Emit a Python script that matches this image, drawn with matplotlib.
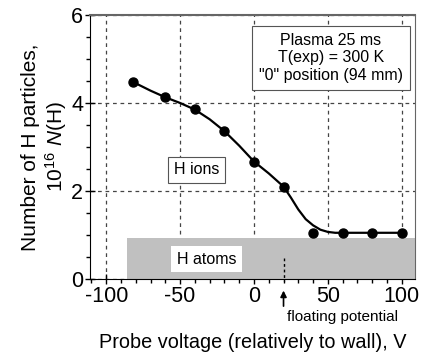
import matplotlib.pyplot as plt
import numpy as np

plt.rcParams['font.family'] = ['Liberation Sans', 'DejaVu Sans']
plt.rcParams['mathtext.fontset'] = 'custom'
plt.rcParams['mathtext.rm'] = 'Liberation Sans'
plt.rcParams['mathtext.it'] = 'Liberation Sans:italic'
plt.rcParams['axes.unicode_minus'] = False

# measured points
voltage = [-82, -60, -40, -20, 0, 20, 40, 60, 80, 100]
n_h = [4.48, 4.14, 3.86, 3.36, 2.67, 2.10, 1.05, 1.05, 1.05, 1.05]

# guide curve
curve_v = [-82, -70, -60, -50, -40, -30, -20, -10, 0, 10, 20, 25, 30, 35,
           40, 45, 50, 55, 60, 80, 100]
curve_n = [4.48, 4.28, 4.13, 4.00, 3.85, 3.63, 3.36, 3.03, 2.67, 2.40, 2.10,
           1.85, 1.58, 1.36, 1.22, 1.12, 1.07, 1.05, 1.05, 1.05, 1.05]

atoms_start = -86
atoms_level = 0.93
floating_v = 20

fig = plt.figure(figsize=(4.22, 3.54), dpi=100)
ax = fig.add_axes([0.2133, 0.2119, 0.9834 - 0.2133, 0.9576 - 0.2119])
ax.set_xlim(-111, 109)
ax.set_ylim(0, 6)

ax.set_xticks([-100, -50, 0, 50, 100])
ax.set_xticks(np.arange(-110, 110, 10), minor=True)
ax.set_yticks([0, 2, 4, 6])
ax.set_yticks(np.arange(0, 6, 0.5), minor=True)
ax.tick_params(which='major', direction='inout', length=7, width=1,
               labelsize=15.5, pad=1.5)
ax.tick_params(which='minor', direction='out', length=3, width=1)
ax.grid(True, which='major', linestyle=(0, (3, 3)), color='#444444',
        linewidth=0.9, zorder=0)

for side in ['top', 'right']:
    ax.spines[side].set_color('#666666')
ax.spines['top'].set_linewidth(1.5)

ax.fill_between([atoms_start, 109], 0, atoms_level, color='#c0c0c0',
                linewidth=0, zorder=2)
ax.plot([floating_v, floating_v], [0.48, -0.05], color='black',
        linestyle=(0, (2, 2)), linewidth=1, zorder=3, clip_on=False)
ax.annotate('', xy=(floating_v, -0.2), xytext=(floating_v, -0.68),
            arrowprops=dict(arrowstyle='-|>', color='black', lw=1.2,
                            mutation_scale=9),
            annotation_clip=False)
ax.text(60, -0.87, 'floating potential', fontsize=11, ha='center',
        va='center', clip_on=False)

ax.plot(curve_v, curve_n, color='black', linewidth=1.6, zorder=4)
ax.plot(voltage, n_h, 'o', color='black', markersize=6.5, zorder=5)

ax.text(-32, 0.45, 'H atoms', fontsize=11.5, ha='center', va='center',
        zorder=6, bbox=dict(boxstyle='square,pad=0.35', fc='white',
                            ec='none'))
ax.text(-39, 2.48, 'H ions', fontsize=11.5, ha='center', va='center',
        zorder=6, bbox=dict(boxstyle='square,pad=0.35', fc='white',
                            ec='#555555', lw=0.8))
ax.text(52, 5.03, 'Plasma 25 ms\nT(exp) = 300 K\n"0" position (94 mm)',
        fontsize=11.5, ha='center', va='center', linespacing=1.2, zorder=6,
        bbox=dict(boxstyle='square,pad=0.45', fc='white', ec='#555555',
                  lw=0.8))

ax.set_xlabel('Probe voltage (relatively to wall), V', fontsize=14.3,
              labelpad=19)
ax.set_ylabel('Number of H particles,\n10$^{16}$ $N$(H)', fontsize=15,
              labelpad=1.5, linespacing=1.15)

fig.savefig('out.png', dpi=100)
